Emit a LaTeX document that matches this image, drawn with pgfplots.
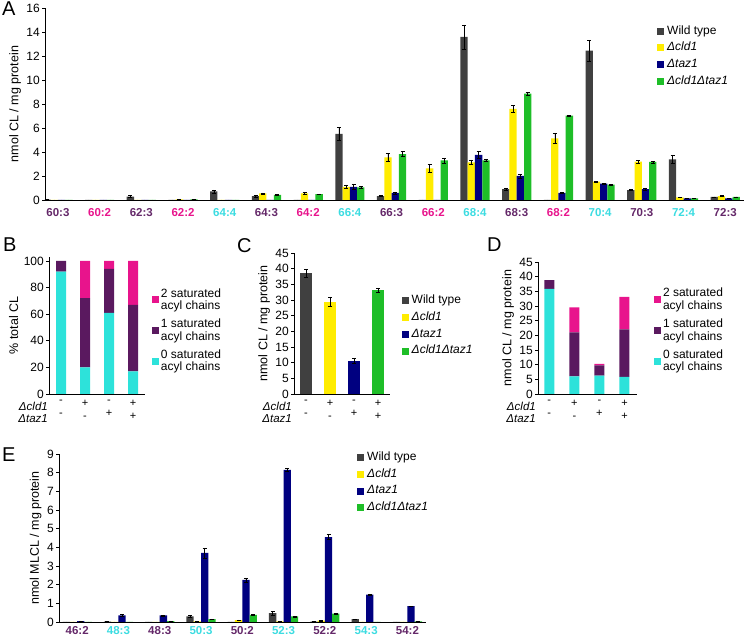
\documentclass[border=0pt]{standalone}
\usepackage{pgfplots}
\pgfplotsset{compat=1.18}
\usepackage{pgfplotstable}
\usepackage{fontspec}
\setmainfont{Liberation Sans}
\definecolor{wtc}{RGB}{64,64,64}
\definecolor{clc}{RGB}{255,236,0}
\definecolor{tzc}{RGB}{0,0,128}
\definecolor{dbc}{RGB}{30,190,40}
\definecolor{magc}{RGB}{232,20,140}
\definecolor{purc}{RGB}{90,25,95}
\definecolor{cyac}{RGB}{45,226,218}
\definecolor{labpur}{RGB}{100,40,105}
\definecolor{labmag}{RGB}{232,20,140}
\definecolor{labcya}{RGB}{60,220,225}

\pgfplotstableread{
x wt wte cl cle tz tze db dbe
0 0.03 0 0 0 0 0 0 0
1 0.02 0 0 0 0.01 0 0 0
2 0.28 0.08 0 0 0 0 0 0
3 0 0 0.05 0.02 0 0 0.05 0.02
4 0.72 0.12 0 0 0 0 0 0
5 0.32 0.05 0.55 0.05 0 0 0.42 0.04
6 0 0 0.55 0.07 0 0 0.48 0.04
7 5.5 0.55 1.1 0.15 1.1 0.2 1.05 0.1
8 0.33 0.05 3.55 0.35 0.6 0.08 3.83 0.2
9 0 0 2.64 0.3 0 0 3.3 0.2
10 13.6 1.0 3.14 0.2 3.75 0.3 3.3 0.1
11 0.9 0.1 7.6 0.3 2.0 0.15 8.86 0.1
12 0 0 5.14 0.4 0.6 0.03 7.03 0.03
13 12.44 0.86 1.53 0.05 1.36 0.05 1.28 0.05
14 0.83 0.05 3.19 0.1 0.9 0.1 3.17 0.07
15 3.39 0.3 0.22 0.03 0.14 0.02 0.14 0.02
16 0.25 0.02 0.33 0.03 0.14 0.02 0.25 0.02
}\dataA

\pgfplotstableread{
x wt wte cl cle tz tze db dbe
0 0 0 0 0 0.05 0.01 0 0
1 0.02 0 0 0 0.35 0.06 0 0
2 0 0 0 0 0.35 0.03 0.05 0.01
3 0.3 0.05 0.03 0 3.7 0.27 0.15 0.02
4 0 0 0.1 0.02 2.25 0.12 0.38 0.03
5 0.48 0.1 0.03 0 8.15 0.1 0.3 0.03
6 0.02 0 0.07 0.02 4.55 0.14 0.45 0.03
7 0.15 0.02 0 0 1.47 0.04 0 0
8 0 0 0 0 0.85 0 0.03 0
}\dataE

\pgfplotsset{
  base/.style={
    scale only axis, anchor=south west,
    axis x line*=bottom, axis y line*=left,
    axis line style={-, line width=0.8pt, black},
    tick align=outside, major tick length=3pt,
    ytick style={line width=0.6pt, black},
    xtick style={draw=none},
    /pgf/number format/assume math mode=true,
    ticklabel style={font=\fontsize{12}{13}\selectfont},
    yticklabel style={inner sep=2pt},
    ylabel style={font=\fontsize{12.5}{14}\selectfont},
    legend style={draw=none, fill=none, inner sep=0pt,
      font=\fontsize{12}{12.5}\selectfont, cells={anchor=west}},
    error bars/error bar style={black, line width=0.5pt},
    error bars/error mark options={rotate=90, mark size=2pt, line width=0.5pt, black},
  },
  sq/.style={legend image code/.code={\fill[##1] (0pt,-3.5pt) rectangle (7pt,3.5pt);}},
  ebar/.style={error bars/.cd, y dir=both, y explicit},
}

\begin{document}
\begin{tikzpicture}
\path[use as bounding box] (0pt,0pt) rectangle (745pt,637pt);

% ---------- A ----------
\begin{axis}[base, at={(45pt,437pt)}, width=699pt, height=192pt,
  ybar=0pt, bar width=7.3pt, sq,
  xmin=-0.31, xmax=16.45, ymin=0, ymax=16, ytick={0,2,...,16},
  xtick={0,...,16},
  xticklabels={\textcolor{labpur}{60:3},\textcolor{labmag}{60:2},\textcolor{labpur}{62:3},\textcolor{labmag}{62:2},
    \textcolor{labcya}{64:4},\textcolor{labpur}{64:3},\textcolor{labmag}{64:2},\textcolor{labcya}{66:4},
    \textcolor{labpur}{66:3},\textcolor{labmag}{66:2},\textcolor{labcya}{68:4},\textcolor{labpur}{68:3},
    \textcolor{labmag}{68:2},\textcolor{labcya}{70:4},\textcolor{labpur}{70:3},\textcolor{labcya}{72:4},
    \textcolor{labpur}{72:3}},
  xticklabel style={font=\bfseries\fontsize{11.5}{12}\selectfont, yshift=-2pt},
  ylabel={nmol CL / mg protein},
  legend style={at={(0.8755,0.915)}, anchor=north west,
    nodes={inner ysep=1pt, inner xsep=3pt, text height=8.5pt, text depth=2.8pt}, row sep=3.5pt},
]
\addplot[fill=wtc, draw=none, ebar] table[x=x, y=wt, y error=wte] {\dataA};
\addplot[fill=clc, draw=none, ebar] table[x=x, y=cl, y error=cle] {\dataA};
\addplot[fill=tzc, draw=none, ebar] table[x=x, y=tz, y error=tze] {\dataA};
\addplot[fill=dbc, draw=none, ebar] table[x=x, y=db, y error=dbe] {\dataA};
\legend{Wild type, \textit{Δcld1}, \textit{Δtaz1}, \textit{Δcld1Δtaz1}}
\end{axis}

% ---------- B ----------
\begin{axis}[base, at={(49pt,243pt)}, width=96pt, height=137pt,
  ybar stacked, bar width=10pt, sq,
  xmin=-0.5, xmax=3.5, ymin=0, ymax=103, ytick={0,20,...,100},
  xtick={0,1,2,3}, xticklabels={{-\\-},{+\\-},{-\\+},{+\\+}},
  xticklabel style={align=center, font=\fontsize{11}{13}\selectfont},
  ylabel={\% total CL},
  legend style={at={(1.07,0.78)}, anchor=north west,
    cells={anchor=west, align=left}, nodes={inner ysep=1pt, inner xsep=2pt}, row sep=6pt},
  reverse legend,
]
\addplot[fill=cyac, draw=none] coordinates {(0,92) (1,20) (2,61) (3,17)};
\addlegendentry{0 saturated\\acyl chains}
\addplot[fill=purc, draw=none] coordinates {(0,8) (1,52) (2,33) (3,50)};
\addlegendentry{1 saturated\\acyl chains}
\addplot[fill=magc, draw=none] coordinates {(0,0) (1,28) (2,6) (3,33)};
\addlegendentry{2 saturated\\acyl chains}
\end{axis}

% ---------- C ----------
\begin{axis}[base, at={(294pt,243pt)}, width=96pt, height=141pt,
  ybar, bar width=12pt, sq,
  xmin=-0.5, xmax=3.5, ymin=0, ymax=45, ytick={0,5,...,45},
  xtick={0,1,2,3}, xticklabels={{-\\-},{+\\-},{-\\+},{+\\+}},
  xticklabel style={align=center, font=\fontsize{11}{13}\selectfont},
  ylabel={nmol CL / mg protein},
  legend style={at={(1.12,0.71)}, anchor=north west,
    nodes={inner ysep=1pt, inner xsep=3pt, text height=8.5pt, text depth=2.8pt}, row sep=3.5pt},
]
\addplot[fill=wtc, draw=none, bar shift=0pt, ebar] coordinates {(0,38.6) +- (0,1.2)};
\addplot[fill=clc, draw=none, bar shift=0pt, ebar] coordinates {(1,29.5) +- (0,1.5)};
\addplot[fill=tzc, draw=none, bar shift=0pt, ebar] coordinates {(2,10.5) +- (0,0.8)};
\addplot[fill=dbc, draw=none, bar shift=0pt, ebar] coordinates {(3,33.2) +- (0,0.7)};
\legend{Wild type, \textit{Δcld1}, \textit{Δtaz1}, \textit{Δcld1Δtaz1}}
\end{axis}

% ---------- D ----------
\begin{axis}[base, at={(538pt,243pt)}, width=99pt, height=132pt,
  ybar stacked, bar width=10pt, sq,
  xmin=-0.45, xmax=3.5, ymin=0, ymax=45, ytick={0,5,...,45},
  xtick={0,1,2,3}, xticklabels={{-\\-},{+\\-},{-\\+},{+\\+}},
  xticklabel style={align=center, font=\fontsize{11}{13}\selectfont},
  ylabel={nmol CL / mg protein},
  legend style={at={(1.17,0.81)}, anchor=north west,
    cells={anchor=west, align=left}, nodes={inner ysep=1pt, inner xsep=2pt}, row sep=6pt},
  reverse legend,
]
\addplot[fill=cyac, draw=none] coordinates {(0,35.8) (1,6) (2,6.3) (3,5.8)};
\addlegendentry{0 saturated\\acyl chains}
\addplot[fill=purc, draw=none] coordinates {(0,3.0) (1,15) (2,3.5) (3,16.2)};
\addlegendentry{1 saturated\\acyl chains}
\addplot[fill=magc, draw=none] coordinates {(0,0) (1,8.5) (2,0.5) (3,11.1)};
\addlegendentry{2 saturated\\acyl chains}
\end{axis}

% ---------- E ----------
\begin{axis}[base, at={(59pt,15pt)}, width=367pt, height=168pt,
  ybar=0pt, bar width=7.3pt, sq,
  xmin=-0.44, xmax=8.45, ymin=0, ymax=9, ytick={0,1,...,9},
  xtick={0,...,8},
  xticklabels={\textcolor{labpur}{46:2},\textcolor{labcya}{48:3},\textcolor{labpur}{48:3},\textcolor{labcya}{50:3},
    \textcolor{labpur}{50:2},\textcolor{labcya}{52:3},\textcolor{labpur}{52:2},\textcolor{labcya}{54:3},
    \textcolor{labpur}{54:2}},
  xticklabel style={font=\bfseries\fontsize{11.5}{12}\selectfont, inner ysep=1pt},
  ylabel={nmol MLCL / mg protein},
  legend style={at={(0.812,1.02)}, anchor=north west,
    nodes={inner ysep=1pt, inner xsep=3pt, text height=8.5pt, text depth=2.8pt}, row sep=3.5pt},
]
\addplot[fill=wtc, draw=none, ebar] table[x=x, y=wt, y error=wte] {\dataE};
\addplot[fill=clc, draw=none, ebar] table[x=x, y=cl, y error=cle] {\dataE};
\addplot[fill=tzc, draw=none, ebar] table[x=x, y=tz, y error=tze] {\dataE};
\addplot[fill=dbc, draw=none, ebar] table[x=x, y=db, y error=dbe] {\dataE};
\legend{Wild type, \textit{Δcld1}, \textit{Δtaz1}, \textit{Δcld1Δtaz1}}
\end{axis}

% row headers
\foreach \xx in {48,292,536}{
  \node[anchor=east, inner sep=0pt, font=\itshape\fontsize{11.5}{12}\selectfont] at (\xx pt,231pt) {Δcld1};
  \node[anchor=east, inner sep=0pt, font=\itshape\fontsize{11.5}{12}\selectfont] at (\xx pt,218pt) {Δtaz1};
}
% panel letters
\node[anchor=north west, inner sep=0pt, font=\fontsize{20}{20}\selectfont] at (2pt,635pt) {A};
\node[anchor=north west, inner sep=0pt, font=\fontsize{20}{20}\selectfont] at (3pt,399pt) {B};
\node[anchor=north west, inner sep=0pt, font=\fontsize{20}{20}\selectfont] at (237pt,399pt) {C};
\node[anchor=north west, inner sep=0pt, font=\fontsize{20}{20}\selectfont] at (487pt,399pt) {D};
\node[anchor=north west, inner sep=0pt, font=\fontsize{20}{20}\selectfont] at (2pt,189pt) {E};
\end{tikzpicture}
\end{document}
